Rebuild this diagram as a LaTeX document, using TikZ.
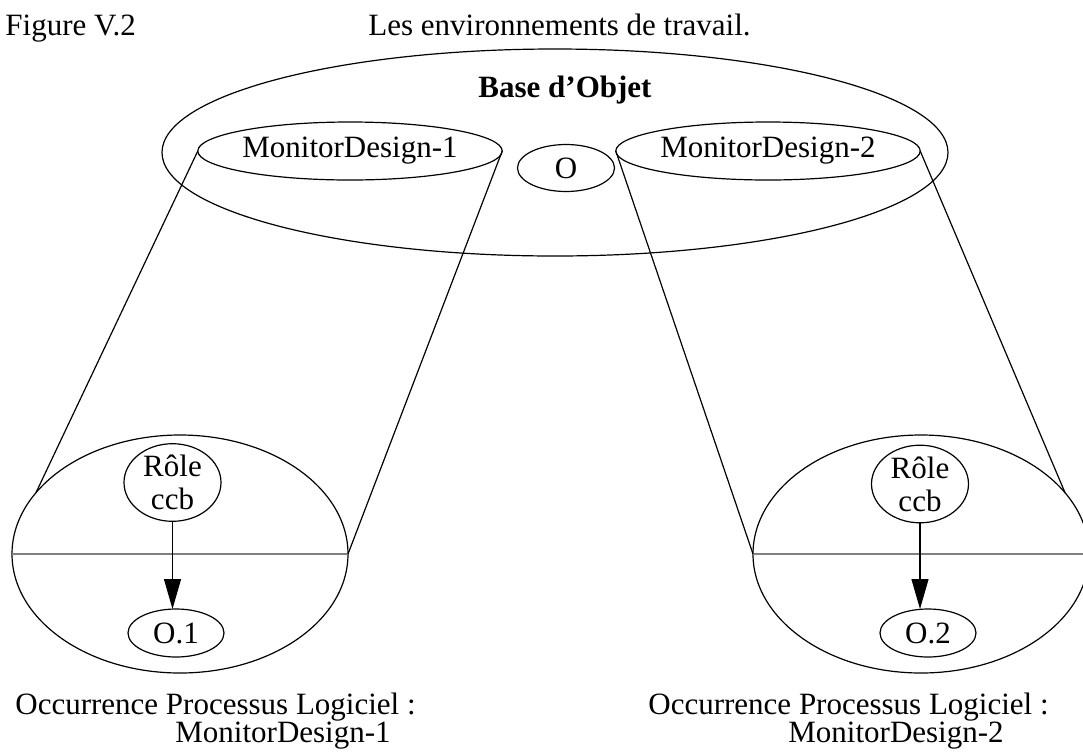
\documentclass[tikz,border=0pt]{standalone}
\usepackage{fontspec}
\setmainfont{Liberation Serif}
\usetikzlibrary{shapes.geometric,arrows.meta}

\begin{document}
\begin{tikzpicture}[x=0.5pt,y=-0.5pt,
        font=\fontsize{15.5}{17}\selectfont,
        blob/.style={draw,ellipse,inner sep=0pt,outer sep=0pt,line width=0.6pt},
        txt/.style={inner sep=0pt,anchor=base west},
        link/.style={line width=0.6pt},
        cut/.style={line width=1.4pt,gray},
        fleche/.style={line width=0.6pt,-{Triangle[length=15pt,width=8.5pt]}}]
        \useasboundingbox (0,0) rectangle (1083,751);
        % titre
        \node[txt] (fig) at (5,35) {Figure V.2};
        \node[txt] (titre) at (368,35) {Les environnements de travail.};
        % base d'objet
        \node[blob,minimum width=393pt,minimum height=103.5pt] (base) at (555,152.5) {};
        \node[inner sep=0pt,anchor=base,font=\fontsize{15.5}{17}\selectfont\bfseries] (baselbl) at (565,97) {Base d’Objet};
        \node[blob,minimum width=132pt,minimum height=29pt] (md1) at (350,151) {MonitorDesign-1};
        \node[blob,minimum width=48.5pt,minimum height=23.5pt] (obj) at (566,168) {O};
        \node[blob,minimum width=132pt,minimum height=29pt] (md2) at (768,151) {MonitorDesign-2};
        % occurrences
        \node[blob,minimum width=168pt,minimum height=119pt] (occ1) at (180,554) {};
        \node[blob,minimum width=168pt,minimum height=119pt] (occ2) at (921,554) {};
        \draw[cut] (occ1.west) -- (occ1.east);
        \draw[cut] (occ2.west) -- (occ2.east);
        \node[blob,minimum width=48.5pt,minimum height=37.5pt,align=center,font=\fontsize{15.5}{16.5}\selectfont] (role1) at (172.5,482.5) {Rôle\\ccb};
        \node[blob,minimum width=48pt,minimum height=24pt] (o1) at (176,633) {O.1};
        \node[blob,minimum width=48.5pt,minimum height=36pt,align=center,font=\fontsize{15.5}{16.5}\selectfont] (role2) at (920,484) {Rôle\\ccb};
        \node[blob,minimum width=48pt,minimum height=24pt] (o2) at (928,633) {O.2};
        \draw[fleche] (role1.south) -- (role1.south |- o1.north);
        \draw[fleche] (role2.south) -- (role2.south |- o2.north);
        % projections
        \draw[link] (md1.west) -- (occ1.157);
        \draw[link] (md1.east) -- (occ1.east);
        \draw[link] (md2.west) -- (occ2.west);
        \draw[link] (md2.east) -- (occ2.23);
        % legendes
        \node[txt] (cap1) at (15,714) {Occurrence Processus Logiciel :};
        \node[txt] (cap1nom) at (175,742) {MonitorDesign-1};
        \node[txt] (cap2) at (648,714) {Occurrence Processus Logiciel :};
        \node[txt] (cap2nom) at (788,742) {MonitorDesign-2};
\end{tikzpicture}
\end{document}
